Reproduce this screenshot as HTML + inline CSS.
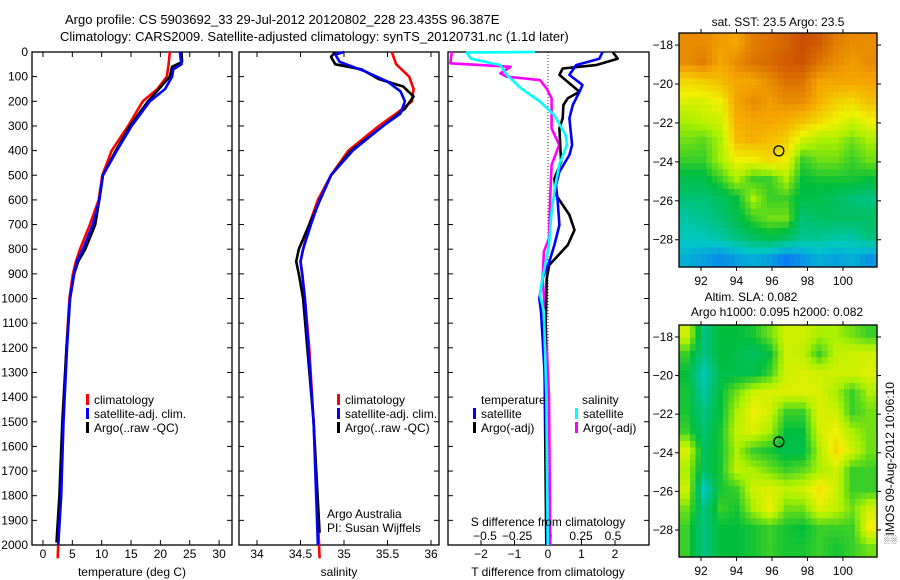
<!DOCTYPE html>
<html><head><meta charset="utf-8"><style>
body{margin:0;background:#fff;}
svg{display:block;font-family:"Liberation Sans",sans-serif;font-size:12px;}
</style></head><body>
<svg id="fig" width="900" height="580" viewBox="0 0 900 580" xmlns="http://www.w3.org/2000/svg">
<text x="65" y="24" font-size="13">Argo profile: CS 5903692_33 29-Jul-2012 20120802_228 23.435S 96.387E</text>
<text x="60" y="41" font-size="13">Climatology: CARS2009. Satellite-adjusted climatology: synTS_20120731.nc (1.1d later)</text>
</svg>
<script>
// ---- data ----
const tClimDepth=[0,50,100,150,200,300,400,500,600,700,800,850,900,1000,1200,1500,1800,2000,2054];
const tClimVal=[21.6,21.4,21.1,19.5,17,14.5,11.7,10.1,9.5,8,6.3,5.6,5.1,4.5,4,3.4,3,2.6,2.5];
const tSatDepth=[0,50,70,100,150,200,300,400,500,600,700,800,850,900,1000,1200,1500,1800,2000];
const tSatVal=[23.3,23.6,22.2,22,20.8,18.2,15.1,12.6,10.2,9.6,8.5,6.8,5.8,5.3,4.6,4.1,3.5,3.1,2.6];
const tArgoDepth=[0,40,60,100,200,300,400,500,600,700,800,850,900,1000,1200,1500,1800,1990];
const tArgoVal=[23.6,23.7,22,21.6,17.9,14.8,12.4,10.2,9.6,8.9,7.2,6,5.3,4.6,4,3.3,2.8,2.3];

const sClimDepth=[0,50,100,150,200,250,300,400,500,600,700,800,850,900,1000,1200,1500,1800,2054];
const sClimVal=[35.55,35.6,35.75,35.8,35.78,35.6,35.4,35.05,34.85,34.7,34.6,34.53,34.5,34.52,34.55,34.6,34.65,34.69,34.72];
const sSatDepth=[0,10,40,80,120,160,200,250,300,400,500,600,700,800,850,900,1000,1500,2000];
const sSatVal=[35.0,34.9,34.95,35.25,35.5,35.65,35.7,35.65,35.45,35.1,34.85,34.72,34.62,34.53,34.5,34.52,34.55,34.65,34.7];
const sArgoDepth=[0,20,50,70,110,140,180,230,300,400,500,700,800,850,900,1000,1500,1950];
const sArgoVal=[34.9,34.85,34.9,35.2,35.4,35.68,35.8,35.7,35.45,35.08,34.85,34.6,34.48,34.45,34.48,34.53,34.65,34.72];

const dTSatDepth=[0,27,53,93,134,161,215,269,377,418,486,540,607,702,783,851,918,1000,1053,1300,1600,2000];
const dTSatVal=[1.63,1.53,0.84,0.64,1.03,0.94,0.74,0.64,0.72,0.64,0.34,0.24,0.29,0.34,0.19,0.04,-0.16,-0.26,-0.21,-0.1,-0.05,-0.02];
const dTArgoDepth=[0,27,53,67,93,161,188,215,269,310,445,513,580,661,722,783,864,918,1053,1300,1600,2000];
const dTArgoVal=[1.93,2.08,1.43,0.44,0.34,0.94,0.59,0.46,0.44,0.34,0.39,0.19,0.24,0.64,0.79,0.59,0.04,-0.04,-0.06,-0.1,-0.08,-0.05];
const dSSatDepth=[0,2,5,27,53,93,147,201,255,337,377,458,540,648,783,918,986,1053,1400,2000];
const dSSatVal=[-0.11,-0.64,-0.64,-0.61,-0.38,-0.33,-0.22,-0.07,0.04,0.13,0.14,0.08,0.05,0.02,0,-0.05,-0.07,-0.04,-0.02,-0.01];
const dSArgoDepth=[0,46,60,87,100,114,147,188,310,377,458,580,756,810,918,1053,1400,2000];
const dSArgoVal=[-0.76,-0.77,-0.3,-0.38,-0.33,-0.07,-0.02,0.02,0.02,0.08,0.02,0.01,0,-0.04,-0.05,-0.03,0,0.01];

const depthTicks=[0,100,200,300,400,500,600,700,800,900,1000,1100,1200,1300,1400,1500,1600,1700,1800,1900,2000];
const tempTicks=[0,5,10,15,20,25,30];
const salTicks=[34,34.5,35,35.5,36];
const dTTicks=[-2,-1,0,1,2];
const dSTicks=[-0.5,-0.25,0,0.25,0.5];
const lonTicks=[92,94,96,98,100];
const latTicks=[-18,-20,-22,-24,-26,-28];

const sstGrid=[
[0.85,0.85,0.82,0.8,0.88,0.9,0.93,0.97,0.95,0.88,0.85,0.85],
[0.85,0.88,0.8,0.85,0.9,0.92,0.95,0.96,0.9,0.85,0.82,0.85],
[0.7,0.72,0.75,0.8,0.8,0.85,0.9,0.9,0.8,0.8,0.8,0.8],
[0.62,0.62,0.65,0.8,0.85,0.82,0.85,0.85,0.78,0.72,0.7,0.75],
[0.55,0.58,0.6,0.78,0.8,0.8,0.78,0.75,0.7,0.65,0.6,0.65],
[0.5,0.48,0.55,0.75,0.78,0.75,0.72,0.6,0.55,0.55,0.5,0.55],
[0.45,0.45,0.55,0.65,0.65,0.7,0.65,0.45,0.5,0.5,0.45,0.5],
[0.38,0.38,0.45,0.55,0.45,0.45,0.55,0.4,0.42,0.42,0.42,0.4],
[0.32,0.32,0.35,0.4,0.55,0.45,0.45,0.38,0.38,0.35,0.32,0.3],
[0.25,0.28,0.32,0.38,0.45,0.5,0.5,0.32,0.35,0.35,0.35,0.35],
[0.22,0.22,0.25,0.3,0.35,0.38,0.35,0.28,0.28,0.25,0.25,0.3],
[0.15,0.12,0.08,0.12,0.15,0.12,0.05,0.1,0.15,0.12,0.15,0.1]];
const slaGrid=[
[0.6,0.3,0.4,0.4,0.42,0.5,0.6,0.6,0.55,0.55,0.5,0.45],
[0.45,0.3,0.4,0.38,0.35,0.4,0.6,0.58,0.45,0.58,0.6,0.6],
[0.4,0.22,0.38,0.38,0.38,0.45,0.6,0.62,0.6,0.6,0.6,0.62],
[0.42,0.25,0.4,0.5,0.6,0.62,0.62,0.62,0.62,0.55,0.45,0.55],
[0.42,0.3,0.4,0.55,0.65,0.6,0.45,0.45,0.62,0.6,0.45,0.5],
[0.45,0.32,0.42,0.58,0.62,0.55,0.4,0.4,0.6,0.65,0.55,0.5],
[0.62,0.35,0.42,0.55,0.45,0.42,0.38,0.38,0.55,0.7,0.6,0.5],
[0.55,0.35,0.42,0.58,0.55,0.5,0.45,0.48,0.55,0.6,0.45,0.45],
[0.6,0.2,0.42,0.45,0.6,0.62,0.58,0.6,0.68,0.6,0.45,0.45],
[0.5,0.3,0.45,0.42,0.55,0.65,0.5,0.5,0.62,0.58,0.5,0.6],
[0.45,0.3,0.4,0.4,0.42,0.45,0.42,0.4,0.45,0.45,0.45,0.65],
[0.45,0.3,0.4,0.4,0.42,0.45,0.42,0.42,0.45,0.42,0.45,0.5]];
const argoLon=96.387, argoLat=-23.435;

// ---- drawing ----
const NS="http://www.w3.org/2000/svg";
const svg=document.getElementById('fig');
function mk(tag,attrs,parent){const e=document.createElementNS(NS,tag);for(const k in attrs)e.setAttribute(k,attrs[k]);(parent||svg).appendChild(e);return e;}
function txt(x,y,s,anchor,parent,size){const t=mk('text',{x:x,y:y,'text-anchor':anchor||'start','font-size':size||12},parent);t.textContent=s;return t;}

const TOP=52, BOT=545;
function yD(d){return TOP+d*0.2465;}

function panel(name,x0,x1,vmin,vmax){
  const g=mk('g',{});
  
  
  const fx=v=>x0+(v-vmin)/(vmax-vmin)*(x1-x0);
  return {g,fx,x0,x1};
}
function frame(p){
  mk('rect',{x:p.x0,y:TOP,width:p.x1-p.x0,height:BOT-TOP,fill:'none',stroke:'#000','stroke-width':1.3},p.g);
  depthTicks.forEach(d=>{
    mk('line',{x1:p.x0,x2:p.x0+5,y1:yD(d),y2:yD(d),stroke:'#000'},p.g);
    mk('line',{x1:p.x1,x2:p.x1-5,y1:yD(d),y2:yD(d),stroke:'#000'},p.g);
  });
}
function xticks(p,ticks,fx,labelY,labelled,bottomOnly){
  ticks.forEach(v=>{
    const x=fx(v);
    if(!bottomOnly) mk('line',{x1:x,x2:x,y1:TOP,y2:TOP+5,stroke:'#000'},p.g);
    mk('line',{x1:x,x2:x,y1:BOT,y2:BOT-5,stroke:'#000'},p.g);
    if(labelled){const t=txt(x,labelY,String(v).replace('-','\u2212'),'middle',p.g);
      
      }
  });
}
function line(p,fx,depths,vals,color,name,w){
  const pts=depths.map((d,i)=>fx(vals[i]).toFixed(1)+','+yD(d).toFixed(1)).join(' ');
  const l=mk('polyline',{points:pts,fill:'none',stroke:color,'stroke-width':w||2.6,'stroke-linejoin':'round'},p.g);
  
  
}
function legend(p,x,y,color,label,name){
  const r=mk('rect',{x:x,y:y-10,width:3,height:11,fill:color},p.g);
  
  
  const t=txt(x+8,y,label,'start',p.g);
  
  
}

// Panel 1 temperature
const p1=panel('temperature-panel',32,232,-1.87,32.2);
frame(p1);
xticks(p1,tempTicks,p1.fx,558,true);
depthTicks.forEach(d=>{const t=txt(28,yD(d)+4,String(d),'end',p1.g);
  
  });
line(p1,p1.fx,tClimDepth,tClimVal,'#ff0000','temp-climatology-line');
line(p1,p1.fx,tArgoDepth,tArgoVal,'#000000','temp-argo-line');
line(p1,p1.fx,tSatDepth,tSatVal,'#0000ff','temp-satellite-line');
legend(p1,86,404,'#ff0000','climatology','legend-climatology');
legend(p1,86,418,'#0000ff','satellite-adj. clim.','legend-satellite');
legend(p1,86,432,'#000000','Argo(..raw -QC)','legend-argo');
{const t=txt(132,576,'temperature (deg C)','middle',p1.g);}

// Panel 2 salinity
const p2=panel('salinity-panel',239,439,33.793,36.092);
frame(p2);
xticks(p2,salTicks,p2.fx,558,true);
line(p2,p2.fx,sClimDepth,sClimVal,'#ff0000','sal-climatology-line');
line(p2,p2.fx,sArgoDepth,sArgoVal,'#000000','sal-argo-line');
line(p2,p2.fx,sSatDepth,sSatVal,'#0000ff','sal-satellite-line');
legend(p2,337,404,'#ff0000','climatology','legend-climatology');
legend(p2,337,418,'#0000ff','satellite-adj. clim.','legend-satellite');
legend(p2,337,432,'#000000','Argo(..raw -QC)','legend-argo');
{const t=txt(327,518,'Argo Australia','start',p2.g);}
{const t=txt(327,532,'PI: Susan Wijffels','start',p2.g);}
{const t=txt(339,576,'salinity','middle',p2.g);}

// Panel 3 differences
const p3=panel('difference-panel',448,649,-2.985,3.015);
const fS=v=>549+v*128;
frame(p3);
xticks(p3,dTTicks,p3.fx,558,true,true);
mk('line',{x1:p3.fx(0),x2:p3.fx(0),y1:TOP,y2:BOT,stroke:'#000','stroke-dasharray':'1,2','stroke-width':0.8},p3.g);
dSTicks.forEach(v=>{const t=txt(fS(v),540,String(v).replace('-','\u2212'),'middle',p3.g);
  });
line(p3,fS,dSArgoDepth,dSArgoVal,'#ff00ff','sdiff-argo-line');
line(p3,p3.fx,dTArgoDepth,dTArgoVal,'#000000','tdiff-argo-line');
line(p3,p3.fx,dTSatDepth,dTSatVal,'#0000ff','tdiff-satellite-line');
line(p3,fS,dSSatDepth,dSSatVal,'#00ffff','sdiff-satellite-line');
{const t=txt(481,404,'temperature','start',p3.g);}
{const t=txt(582,404,'salinity','start',p3.g);}
legend(p3,473,418,'#0000ff','satellite','legend-t-satellite');
legend(p3,473,432,'#000000','Argo(-adj)','legend-t-argo');
legend(p3,575,418,'#00ffff','satellite','legend-s-satellite');
legend(p3,575,432,'#ff00ff','Argo(-adj)','legend-s-argo');
{const t=txt(548,526,'S difference from climatology','middle',p3.g);}
{const t=txt(548,576,'T difference from climatology','middle',p3.g);}

// maps
const stops=[[0,[16,100,255]],[0.2,[0,200,200]],[0.4,[0,190,60]],[0.55,[170,240,0]],[0.65,[240,240,0]],[0.8,[245,165,0]],[1,[195,65,0]]];
function cmap(v){v=Math.max(0,Math.min(1,v));for(let i=1;i<stops.length;i++){if(v<=stops[i][0]){const a=stops[i-1],b=stops[i],t=(v-a[0])/(b[0]-a[0]);const c=a[1].map((x,k)=>Math.round(x+(b[1][k]-x)*t));return 'rgb('+c.join(',')+')';}}return 'rgb(195,65,0)';}
function map(name,grid,y0,y1){
  const g=mk('g',{});
  
  
  const x0=679,x1=877,lon0=90.76,lon1=101.92,lat0=-17.38,lat1=-29.4;
  const fx=v=>x0+(v-lon0)/(lon1-lon0)*(x1-x0), fy=v=>y0+(v-lat0)/(lat1-lat0)*(y1-y0);
  const R=grid.length,C=grid[0].length,N=3;
  const cw=(x1-x0)/(C*N), ch=(y1-y0)/(R*N);
  for(let r=0;r<R*N;r++)for(let c=0;c<C*N;c++){
    const gr=Math.min(R-1,Math.max(0,(r+0.5)/N-0.5)),gc=Math.min(C-1,Math.max(0,(c+0.5)/N-0.5));
    const r0=Math.floor(gr),c0=Math.floor(gc),r1=Math.min(R-1,r0+1),c1=Math.min(C-1,c0+1),tr=gr-r0,tc=gc-c0;
    const v=grid[r0][c0]*(1-tr)*(1-tc)+grid[r0][c1]*(1-tr)*tc+grid[r1][c0]*tr*(1-tc)+grid[r1][c1]*tr*tc;
    const cell=mk('rect',{x:(x0+c*cw).toFixed(2),y:(y0+r*ch).toFixed(2),width:(cw+0.6).toFixed(2),height:(ch+0.6).toFixed(2),fill:cmap(v)},g);
    
    
  }
  mk('rect',{x:x0,y:y0,width:x1-x0,height:y1-y0,fill:'none',stroke:'#000','stroke-width':1.3},g);
  lonTicks.forEach(v=>{const x=fx(v);mk('line',{x1:x,x2:x,y1:y0,y2:y0-4,stroke:'#000'},g);mk('line',{x1:x,x2:x,y1:y1,y2:y1+4,stroke:'#000'},g);
    const t=txt(x,y1+18,String(v),'middle',g);});
  latTicks.forEach(v=>{const y=fy(v);mk('line',{x1:x0,x2:x0-4,y1:y,y2:y,stroke:'#000'},g);mk('line',{x1:x1,x2:x1+4,y1:y,y2:y,stroke:'#000'},g);
    const t=txt(673,y+4,String(v).replace('-','\u2212'),'end',g);});
  const m=mk('circle',{cx:fx(argoLon),cy:fy(argoLat),r:5,fill:'none',stroke:'#000','stroke-width':1.3},g);
  
  
  return g;
}
const m1=map('sst-map',sstGrid,33,267);
{const t=txt(778,26,'sat. SST: 23.5 Argo: 23.5','middle',m1);}
const m2=map('sla-map',slaGrid,325,557);
{const t=txt(751,301,'Altim. SLA: 0.082','middle',m2);}
{const t=txt(777,316,'Argo h1000: 0.095 h2000: 0.082','middle',m2);}
{const t=txt(0,0,'\u2591IMOS 09-Aug-2012 10:06:10','middle');t.setAttribute('transform','translate(894,463) rotate(-90)');}
</script>
</body></html>
